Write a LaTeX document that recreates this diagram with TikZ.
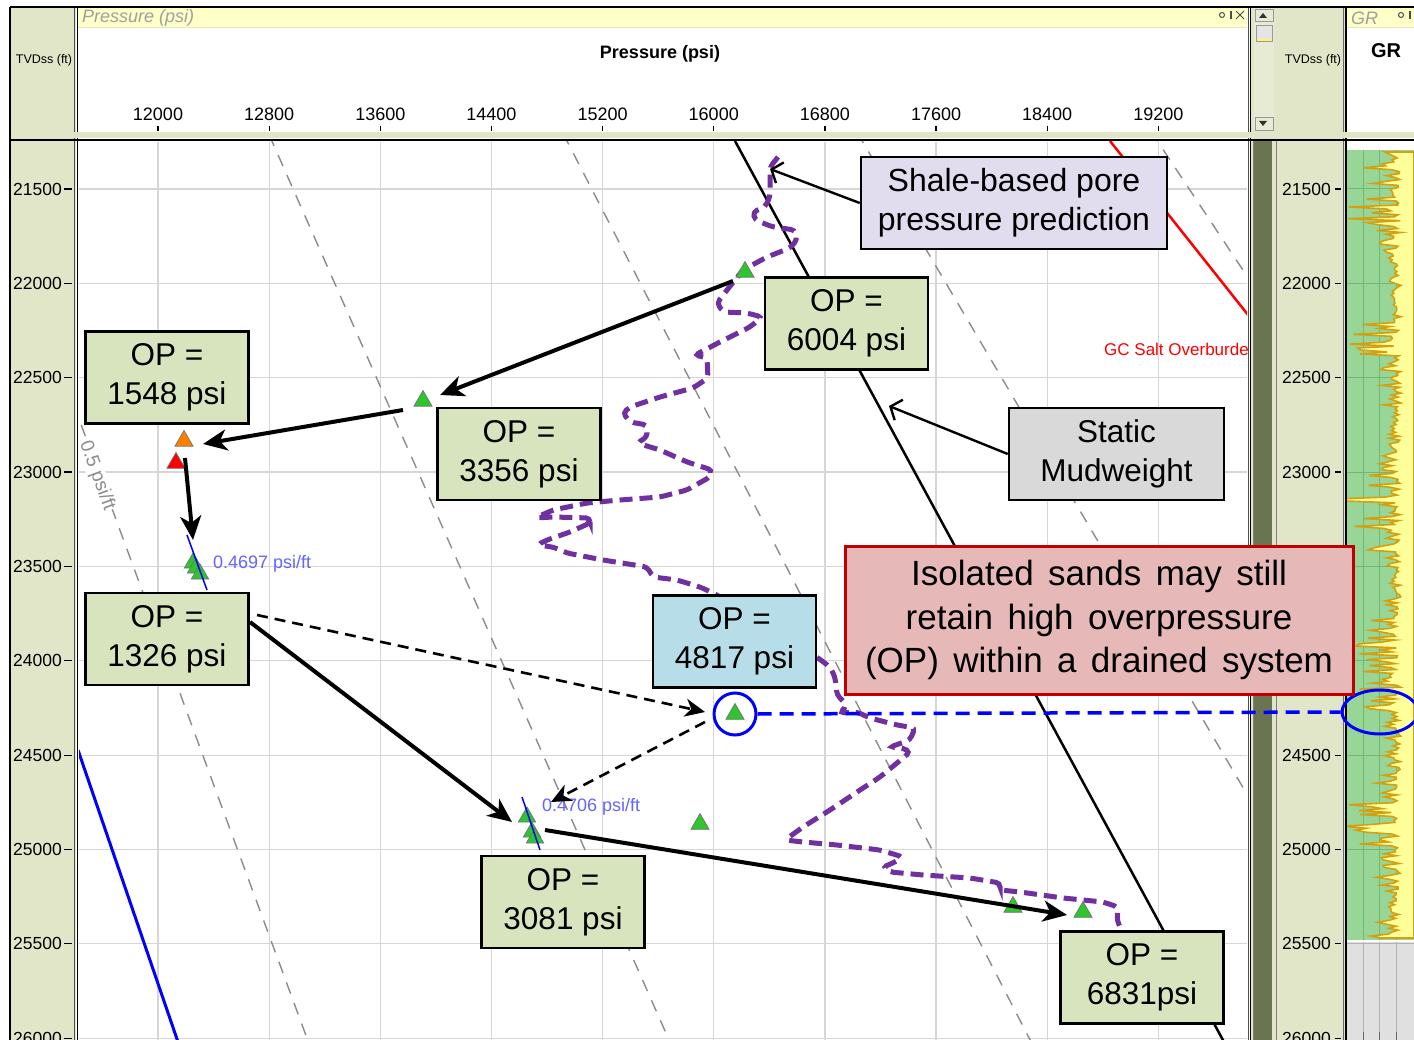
\documentclass[tikz,border=0pt]{standalone}
\usepackage{fontspec}
\setmainfont{Liberation Sans}
\usetikzlibrary{arrows.meta,shapes.geometric}
\definecolor{olivelt}{HTML}{E2E6C9}
\definecolor{olivedk}{HTML}{6B7450}
\definecolor{hdryellow}{HTML}{FFFFC8}
\definecolor{boxgreen}{HTML}{D7E4BD}
\definecolor{boxlav}{HTML}{E1DDEE}
\definecolor{boxgray}{HTML}{D9D9D9}
\definecolor{boxpink}{HTML}{E6B9B8}
\definecolor{boxred}{HTML}{C00000}
\definecolor{boxblue}{HTML}{B7DEE8}
\definecolor{ppurple}{HTML}{7030A0}
\definecolor{grgreen}{HTML}{98D698}
\definecolor{grgrid}{HTML}{72B872}
\definecolor{grgold}{HTML}{D4A010}
\definecolor{gryellow}{HTML}{FFFF99}
\definecolor{gridgray}{HTML}{D6D6D6}
\definecolor{tgreen}{HTML}{2EC52E}
\definecolor{lblblue}{HTML}{6464FF}
\definecolor{hdrgray}{HTML}{A0A0A0}
\tikzset{
  opbox/.style={draw=black, line width=2.6pt, fill=boxgreen, align=center, inner sep=0pt,
    minimum width=163pt, minimum height=92pt, font=\fontsize{31.5}{39}\selectfont},
  tri/.style={regular polygon, regular polygon sides=3, minimum size=21pt, inner sep=0pt,
    draw=black!55, line width=0.7pt, fill=tgreen},
  bigarrow/.style={line width=4pt, -{Stealth[length=24pt,width=21pt,inset=7pt]}},
  dasharrow/.style={line width=2.6pt, dash pattern=on 11pt off 7pt, -{Stealth[length=20pt,width=18pt,inset=6pt]}},
  thinarrow/.style={line width=2.4pt, -{Straight Barb[length=9pt,width=22pt]}},
  gradline/.style={draw=black!45, line width=1.4pt, dash pattern=on 12pt off 10pt},
  gridline/.style={draw=gridgray, line width=1.2pt},
  depthlbl/.style={anchor=east, inner sep=0pt, font=\fontsize{17.5}{18}\selectfont},
  ticklbl/.style={inner sep=0pt, font=\fontsize{18}{19}\selectfont},
  smalllbl/.style={inner sep=0pt, font=\fontsize{12.5}{13}\selectfont},
  pcurve/.style={draw=ppurple, line width=5pt, dash pattern=on 13pt off 7pt, rounded corners=4pt},
  bluedash/.style={draw=blue, line width=3.5pt, dash pattern=on 14pt off 8pt}
}
\begin{document}
\begin{tikzpicture}[x=1pt,y=-1pt]
\useasboundingbox (0,0) rectangle (1414,1040);
\fill[white] (0,0) rectangle (1414,1040);
% ---------- frame columns ----------
\fill[olivelt] (10,7) rectangle (76,1040);
\fill[olivelt] (1250,7) rectangle (1346,1040);
\fill[olivedk] (1254,141) rectangle (1272,1040);
\draw[black!50, line width=1pt] (1276,141) -- (1276,1040);
\draw[black!50, line width=1pt] (1253,141) -- (1253,1040);
\draw[black!70, line width=1pt] (74,7) -- (74,1040);
\draw[black, line width=1.6pt] (77.5,7) -- (77.5,1040);
\draw[black!70, line width=1pt] (1248,7) -- (1248,1040);
\draw[black, line width=1.4pt] (1250.5,7) -- (1250.5,1040);
\draw[black!60, line width=1pt] (1343,7) -- (1343,1040);
\draw[black, line width=1.4pt] (1346,7) -- (1346,1040);
% header strips
\fill[hdryellow] (78,8) rectangle (1247,27);
\draw[olivelt, line width=1.2pt] (78,27.5) -- (1247,27.5);
\fill[hdryellow] (1347,8) rectangle (1414,27);
\draw[olivelt, line width=1.2pt] (1347,27.5) -- (1414,27.5);
\node[anchor=west, inner sep=0pt, text=hdrgray, font=\fontsize{18}{19}\selectfont\itshape] (hdrp) at (82,18) {Pressure (psi)};
\node[anchor=west, inner sep=0pt, text=hdrgray, font=\fontsize{18}{19}\selectfont\itshape] (hdrgr) at (1351,18) {GR};
% header icons
\draw[black!70, line width=1pt] (1222,15) circle (2.5);
\draw[black!70, line width=1.6pt] (1231,11) -- (1231,19);
\draw[black!70, line width=1pt] (1236,11) -- (1244,19) (1236,19) -- (1244,11);
\draw[black!70, line width=1pt] (1401,15) circle (2.5);
\draw[black!70, line width=1.6pt] (1410,11) -- (1410,19);
% scrollbar
\fill[olivelt!80!white] (1254,8) rectangle (1274,131);
\draw[black!40, line width=0.8pt] (1255,9) rectangle (1273,21);
\fill[black!80] (1259,18) -- (1267,18) -- (1263,13) -- cycle;
\fill[black!10] (1256,25) rectangle (1272,41);
\draw[black!40, line width=0.8pt] (1256,25) rectangle (1272,41);
\fill[yellow!60] (1257,39) rectangle (1271,41);
\draw[black!40, line width=0.8pt] (1255,117) rectangle (1273,130);
\fill[black!80] (1259,121) -- (1267,121) -- (1263,126) -- cycle;
% header texts
\node[smalllbl] (tvl) at (44,60) {TVDss (ft)};
\node[smalllbl] (tvr) at (1313,60) {TVDss (ft)};
\node[inner sep=0pt, font=\fontsize{18}{19}\selectfont\bfseries] (ptitle) at (660,54) {Pressure (psi)};
\node[inner sep=0pt, font=\fontsize{20}{21}\selectfont\bfseries] (grtitle) at (1386,51) {GR};
\foreach \p/\xx in {12000/158, 12800/269.15, 13600/380.3, 14400/491.45, 15200/602.6, 16000/713.75, 16800/824.9, 17600/936.05, 18400/1047.2, 19200/1158.35}{
  \node[ticklbl] (p\p) at (\xx,114) {\p};
  \draw[black, line width=1.2pt] (\xx,126) -- (\xx,131);
}
% header separator
\fill[olivelt] (10,132) rectangle (1414,138);
\draw[black, line width=2.4pt] (10,140) -- (1414,140);
\draw[black, line width=2.4pt] (10,7) -- (1414,7);
\draw[black, line width=2.4pt] (10,7) -- (10,1040);
% ---------- depth labels ----------
\foreach \d/\yy in {21500/189, 22000/283.35, 22500/377.7, 23000/472.05, 23500/566.4, 24000/660.75, 24500/755.1, 25000/849.45, 25500/943.8, 26000/1038.15}{
  \node[depthlbl] (dl\d) at (62,\yy) {\d};
  \draw[black, line width=1.2pt] (64,\yy) -- (72,\yy);
  \node[depthlbl] (dr\d) at (1331,\yy) {\d};
  \draw[black, line width=1.2pt] (1335,\yy) -- (1341,\yy);
}
% ---------- main plot ----------
\begin{scope}
\clip (79,142) rectangle (1247,1040);
\foreach \xx in {158, 269.15, 380.3, 491.45, 602.6, 713.75, 824.9, 936.05, 1047.2, 1158.35}
  \draw[gridline] (\xx,142) -- (\xx,1040);
\foreach \yy in {189, 283.35, 377.7, 472.05, 566.4, 660.75, 755.1, 849.45, 943.8, 1038.15}
  \draw[gridline] (79,\yy) -- (1247,\yy);
% gradient lines
\draw[gradline] (-40.4,94.65) -- (341.7,1132.5);
\draw[gradline] (251.4,94.65) -- (709.9,1132.5);
\draw[gradline] (543.1,94.65) -- (1077.8,1132.5);
\draw[gradline] (834.9,94.65) -- (1446.2,1132.5);
\draw[gradline] (1126.7,94.65) -- (1814.4,1132.5);
\node[rotate=-69.8, fill=white, inner sep=0.5pt, text=black!45, font=\fontsize{19}{20}\selectfont] (g05) at (97,476) {0.5 psi/ft};
% solid lines
\draw[red, line width=2.5pt] (1110,141) -- (1260,330);
\draw[black, line width=2.5pt] (735,141) -- (1224,1042);
\draw[blue, line width=3pt] (78,750) -- (178,1042);
\node[anchor=west, inner sep=0pt, text=red, font=\fontsize{17}{18}\selectfont] (gcsalt) at (1104,349) {GC Salt Overburden};
\end{scope}
% purple shale-based curve
\draw[pcurve] (778,157) -- (770,167) -- (770,197) -- (765,207) -- (753,212) -- (755,220) -- (773,227) -- (795,230) -- (797,240) -- (790,248) -- (767,257) -- (743,270) -- (727,290) -- (717,303) -- (723,312) -- (747,313) -- (762,317) -- (750,327) -- (720,342) -- (695,355) -- (707,358) -- (708,378) -- (693,388) -- (660,397) -- (630,407) -- (623,413) -- (630,422) -- (647,425) -- (647,437) -- (637,443) -- (660,450) -- (687,462) -- (712,470) -- (710,477) -- (687,490) -- (660,497) -- (620,500) -- (587,503) -- (553,510) -- (535,518) -- (553,517) -- (590,518) -- (590,523) -- (570,532) -- (547,540) -- (537,545) -- (553,547) -- (567,553) -- (603,560) -- (647,567) -- (653,577) -- (677,580) -- (700,587) -- (713,593) -- (760,620) -- (800,645) -- (818,658) -- (830,667) -- (835,677) -- (837,695) -- (847,705) -- (840,713) -- (857,712) -- (870,718) -- (897,725) -- (915,728) -- (910,740) -- (890,747) -- (903,748) -- (910,752) -- (897,763) -- (880,777) -- (860,790) -- (830,810) -- (803,827) -- (785,840) -- (803,842) -- (837,845) -- (880,850) -- (903,857) -- (893,863) -- (883,867) -- (890,872) -- (923,875) -- (970,878) -- (1000,883) -- (1000,890) -- (1020,892) -- (1063,898) -- (1103,902) -- (1118,907) -- (1117,920) -- (1120,927);
% thin gradient lines and labels
\node[anchor=west, inner sep=0pt, text=lblblue, font=\fontsize{18}{19}\selectfont] (l4697) at (213,564) {0.4697 psi/ft};
\node[anchor=west, inner sep=0pt, text=lblblue, font=\fontsize{18}{19}\selectfont] (l4706) at (542,807) {0.4706 psi/ft};
% ---------- markers ----------
\node[tri] (t6004) at (745,272) {};
\node[tri] (t3356) at (423,401) {};
\node[tri, fill=orange] (tor) at (184,441) {};
\node[tri, fill=red] (tred) at (176,463) {};
\node[tri, minimum size=20pt] (c1a) at (193,563) {};
\node[tri, minimum size=20pt] (c1b) at (196,568) {};
\node[tri, minimum size=20pt] (c1c) at (200,574) {};
\node[tri, minimum size=20pt] (c2a) at (527,817) {};
\node[tri, minimum size=20pt] (c2b) at (532,832) {};
\node[tri, minimum size=20pt] (c2c) at (535,838) {};
\node[tri] (tmid) at (700,824) {};
\node[tri] (t6831a) at (1013,907) {};
\node[tri] (t6831b) at (1083,912) {};
\node[tri] (tcirc) at (735,714) {};
\draw[blue, line width=1.5pt] (187,535) -- (207,590);
\draw[blue, line width=1.5pt] (522,797) -- (540,850);
\node[circle, draw=blue, line width=3pt, minimum size=42pt, inner sep=0pt] (bcirc) at (735,714) {};
% ---------- GR track ----------
\fill[grgreen] (1347,150) rectangle (1414,940);
\fill[black!12] (1347,942) rectangle (1414,1040);
\foreach \xx in {1363,1379,1396}{
  \draw[grgrid, line width=1pt] (\xx,150) -- (\xx,940);
  \draw[black!30, line width=1pt] (\xx,942) -- (\xx,1040);
  \draw[black!60, line width=1pt] (\xx,1032) -- (\xx,1040);
}
\foreach \yy in {189, 283.35, 377.7, 472.05, 566.4, 660.75, 755.1, 849.45}
  \draw[grgrid, line width=1pt] (1347,\yy) -- (1414,\yy);
\draw[black!30, line width=1pt] (1347,943.8) -- (1414,943.8);
\begin{scope}
\clip (1347,150) rectangle (1414,940);
\pgfmathsetseed{11}
\path[fill=gryellow, draw=grgold, line width=1.6pt] (1414,152) -- (1385,152) -- plot[variable=\t, samples=400, domain=156:938] ({1401 - (32+26*sin(\t*2.3))*pow(rnd,3.5) - 10*rnd}, \t) -- (1414,938) -- cycle;
\end{scope}
\node[ellipse, draw=blue, line width=3pt, minimum width=76pt, minimum height=44pt, inner sep=0pt] (grell) at (1380,712) {};
\draw[bluedash] (bcirc.east) -- (grell.west);
% ---------- boxes ----------
\node[opbox, fill=boxlav, minimum width=306pt, minimum height=92pt, font=\fontsize{32}{39}\selectfont] (shale) at (1014,203) {Shale-based pore\\pressure prediction};
\node[opbox] (b6004) at (846.5,323.5) {OP =\\6004 psi};
\node[opbox] (b1548) at (167,377.5) {OP =\\1548 psi};
\node[opbox] (b3356) at (519,454) {OP =\\3356 psi};
\node[opbox, fill=boxgray, minimum width=215pt] (static) at (1116.5,454) {Static\\Mudweight};
\node[opbox, fill=boxblue] (b4817) at (734.5,641.5) {OP =\\4817 psi};
\node[opbox] (b1326) at (167,639) {OP =\\1326 psi};
\node[opbox] (b3081) at (563,902) {OP =\\3081 psi};
\node[opbox] (b6831) at (1142,977.5) {OP =\\6831psi};
\node[opbox, fill=boxpink, draw=boxred, line width=3pt, minimum width=508pt, minimum height=148pt,
  font={\fontsize{35}{43.5}\selectfont\spaceskip=0.41em\relax}] (iso) at (1099,620)
  {Isolated sands may still\\retain high overpressure\\(OP) within a drained system};
% ---------- arrows ----------
\coordinate (a1s) at (733,281);
\coordinate (a1e) at (440,395);
\coordinate (a2s) at (403,410);
\coordinate (a2e) at (203,444);
\coordinate (a3s) at (185,458);
\coordinate (a3e) at (193,540);
\coordinate (a4s) at (250,622);
\coordinate (a4e) at (512,822);
\coordinate (a5s) at (545,830);
\coordinate (a5e) at (1067,915);
\coordinate (d1s) at (257,615);
\coordinate (d1e) at (705,712);
\coordinate (d2s) at (705,722);
\coordinate (d2e) at (551,802);
\coordinate (s1e) at (770,169);
\coordinate (s2e) at (889,406);
\draw[bigarrow] (a1s) -- (a1e);
\draw[bigarrow] (a2s) -- (a2e);
\draw[bigarrow] (a3s) -- (a3e);
\draw[bigarrow] (a4s) -- (a4e);
\draw[bigarrow] (a5s) -- (a5e);
\draw[dasharrow] (d1s) -- (d1e);
\draw[dasharrow] (d2s) -- (d2e);
\draw[thinarrow] (shale.west) -- (s1e);
\draw[thinarrow] (static.west) -- (s2e);
\end{tikzpicture}
\end{document}
